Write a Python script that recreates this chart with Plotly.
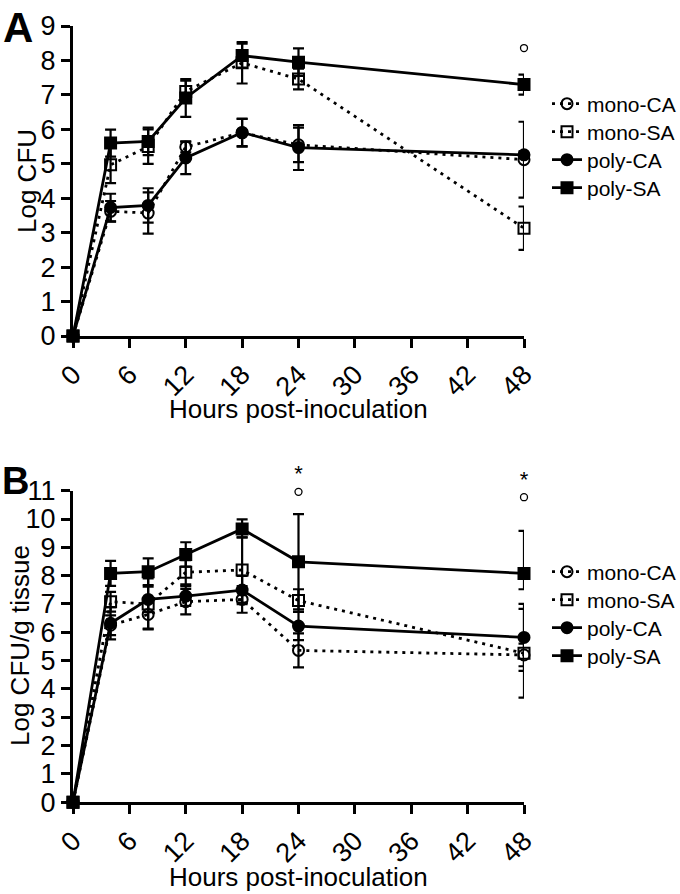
import plotly.graph_objects as go

hours = [0, 4, 8, 12, 18, 24, 48]
x_ticks = [0, 6, 12, 18, 24, 30, 36, 42, 48]
series_names = ["mono-CA", "mono-SA", "poly-CA", "poly-SA"]

# Panel A: Log CFU
monoCA_A = [0, 3.62, 3.57, 5.49, 5.90, 5.55, 5.12]
monoCA_A_err = [0, 0.3, 0.6, 0.16, 0.4, 0.5, 1.1]
monoSA_A = [0, 4.97, 5.50, 7.10, 7.93, 7.46, 3.13]
monoSA_A_err = [0, 0.53, 0.5, 0.31, 0.6, 0.3, 0.63]
polyCA_A = [0, 3.73, 3.79, 5.17, 5.91, 5.47, 5.26]
polyCA_A_err = [0, 0.4, 0.5, 0.47, 0.4, 0.65, 0.1]
polySA_A = [0, 5.60, 5.65, 6.91, 8.14, 7.95, 7.30]
polySA_A_err = [0, 0.39, 0.4, 0.55, 0.35, 0.4, 0.29]

# Panel B: Log CFU/g tissue
monoCA_B = [0, 6.25, 6.63, 7.08, 7.16, 5.36, 5.20]
monoCA_B_err = [0, 0.35, 0.5, 0.45, 0.47, 0.6, 0.4]
monoSA_B = [0, 7.08, 7.00, 8.12, 8.20, 7.12, 5.26]
monoSA_B_err = [0, 0.35, 0.9, 0.43, 1.15, 0.4, 1.57]
polyCA_B = [0, 6.32, 7.16, 7.28, 7.49, 6.22, 5.82]
polyCA_B_err = [0, 0.57, 0.45, 0.35, 0.5, 0.5, 1.18]
polySA_B = [0, 8.08, 8.14, 8.75, 9.65, 8.49, 8.08]
polySA_B_err_plus = [0, 0.44, 0.47, 0.43, 0.34, 1.68, 1.5]
polySA_B_err_minus = [0, 0.44, 0.47, 0.43, 0.30, 1.68, 0.56]

# significance marks
sigA_circle_x, sigA_circle_y = [48], [8.36]
sigB_circle_x, sigB_circle_y = [24, 48], [10.96, 10.77]
sigB_star_x, sigB_star_y = [24, 48], [11.52, 11.32]

FONT = "Liberation Sans, Arial, sans-serif"
W, H = 680, 894

styles = {
    "mono-CA": dict(symbol="circle-open", dash="3px,5px"),
    "mono-SA": dict(symbol="square-open", dash="3px,5px"),
    "poly-CA": dict(symbol="circle", dash="solid"),
    "poly-SA": dict(symbol="square", dash="solid"),
}

fig = go.Figure()

def add_series(name, y, ep, em, xa, ya, leg):
    st = styles[name]
    fig.add_trace(go.Scatter(
        x=hours, y=y, name=name, mode="lines+markers",
        xaxis=xa, yaxis=ya, legend=leg, cliponaxis=False,
        line=dict(color="black", width=2.8, dash=st["dash"]),
        marker=dict(symbol=st["symbol"], size=11, color="black",
                    line=dict(color="black", width=2)),
        error_y=dict(type="data", array=ep, arrayminus=em, symmetric=False,
                     color="black", thickness=2.2, width=5.5),
    ))

dataA = [(monoCA_A, monoCA_A_err, monoCA_A_err), (monoSA_A, monoSA_A_err, monoSA_A_err),
         (polyCA_A, polyCA_A_err, polyCA_A_err), (polySA_A, polySA_A_err, polySA_A_err)]
dataB = [(monoCA_B, monoCA_B_err, monoCA_B_err), (monoSA_B, monoSA_B_err, monoSA_B_err),
         (polyCA_B, polyCA_B_err, polyCA_B_err), (polySA_B, polySA_B_err_plus, polySA_B_err_minus)]

legA_rows = [104, 132, 160, 188]
legB_rows = [572, 600, 628, 656]
leg_x = 547

legend_layout = {}
k = 1
for panel, data, rows, xa, ya in (("A", dataA, legA_rows, "x", "y"), ("B", dataB, legB_rows, "x2", "y2")):
    for name, (y, ep, em), yc in zip(series_names, data, rows):
        key = "legend" if k == 1 else f"legend{k}"
        add_series(name, y, ep, em, xa, ya, key)
        legend_layout[key] = dict(x=leg_x / W, y=1 - yc / H, xanchor="left", yanchor="middle",
                                  font=dict(family=FONT, size=21, color="black"),
                                  bgcolor="rgba(0,0,0,0)", itemwidth=30)
        k += 1

# significance marks on overlay axes that share the panel scales but extend above them
fig.add_trace(go.Scatter(x=sigA_circle_x, y=sigA_circle_y, mode="markers", xaxis="x", yaxis="y",
                         showlegend=False, cliponaxis=False, hoverinfo="skip",
                         marker=dict(symbol="circle-open", size=7, color="black",
                                     line=dict(width=1.3, color="black"))))
fig.add_trace(go.Scatter(x=sigB_circle_x, y=sigB_circle_y, mode="markers", xaxis="x2", yaxis="y3",
                         showlegend=False, cliponaxis=False, hoverinfo="skip",
                         marker=dict(symbol="circle-open", size=7, color="black",
                                     line=dict(width=1.3, color="black"))))
fig.add_trace(go.Scatter(x=sigB_star_x, y=sigB_star_y, mode="text", text=["*"] * len(sigB_star_x),
                         xaxis="x2", yaxis="y3", showlegend=False, cliponaxis=False,
                         hoverinfo="skip", textposition="middle center",
                         textfont=dict(family=FONT, size=22, color="black")))

x_left, x_right = 73, 524
A_top, A_bot = 26, 336
B_top, B_bot = 490.7, 802.2
B_unit = (B_bot - B_top) / 11
B_ext_max = 12.5
B_ext_top = B_bot - B_ext_max * B_unit

def xdom():
    return [x_left / W, x_right / W]

def ydom(top, bot):
    return [(H - bot) / H, (H - top) / H]

axis_common = dict(showline=True, linecolor="black", linewidth=3, ticks="outside",
                   ticklen=9, tickwidth=2.8, tickcolor="black", showgrid=False,
                   zeroline=False, automargin=False,
                   tickfont=dict(family=FONT, size=27, color="black"))

fig.update_layout(
    width=W, height=H, margin=dict(l=0, r=0, t=0, b=0, autoexpand=False),
    paper_bgcolor="white", plot_bgcolor="rgba(0,0,0,0)",
    font=dict(family=FONT, color="black"),
    xaxis=dict(domain=xdom(), range=[0, 48], tickvals=x_ticks, tickangle=-45,
               anchor="y", **axis_common),
    yaxis=dict(domain=ydom(A_top, A_bot), range=[0, 9], dtick=1, anchor="x", **axis_common),
    xaxis2=dict(domain=xdom(), range=[0, 48], tickvals=x_ticks, tickangle=-45,
                anchor="y2", **axis_common),
    yaxis2=dict(domain=ydom(B_top, B_bot), range=[0, 11], dtick=1, anchor="x2", **axis_common),
    yaxis3=dict(domain=ydom(B_ext_top, B_bot), range=[0, B_ext_max], visible=False,
                anchor="x2", automargin=False, showgrid=False, zeroline=False),
    **legend_layout,
)

ann = []
ann.append(dict(x=1 / W, y=1 - 2 / H, xref="paper", yref="paper", xanchor="left", yanchor="top",
                text="<b>A</b>", showarrow=False, font=dict(family=FONT, size=42)))
ann.append(dict(x=0 / W, y=1 - 458 / H, xref="paper", yref="paper", xanchor="left", yanchor="top",
                text="<b>B</b>", showarrow=False, font=dict(family=FONT, size=38)))
ann.append(dict(x=27 / W, y=1 - 181 / H, xref="paper", yref="paper", text="Log CFU",
                xanchor="center", yanchor="middle",
                textangle=-90, showarrow=False, font=dict(family=FONT, size=26)))
ann.append(dict(x=20 / W, y=1 - 646 / H, xref="paper", yref="paper", text="Log CFU/g tissue",
                xanchor="center", yanchor="middle",
                textangle=-90, showarrow=False, font=dict(family=FONT, size=26)))
ann.append(dict(x=298 / W, y=1 - 409 / H, xref="paper", yref="paper",
                xanchor="center", yanchor="middle",
                text="Hours post-inoculation", showarrow=False, font=dict(family=FONT, size=26)))
ann.append(dict(x=298 / W, y=1 - 877 / H, xref="paper", yref="paper",
                xanchor="center", yanchor="middle",
                text="Hours post-inoculation", showarrow=False, font=dict(family=FONT, size=26)))
fig.update_layout(annotations=ann)

fig.write_html("out.html", post_script="document.body.style.margin='0';",
               config={"displayModeBar": False})
